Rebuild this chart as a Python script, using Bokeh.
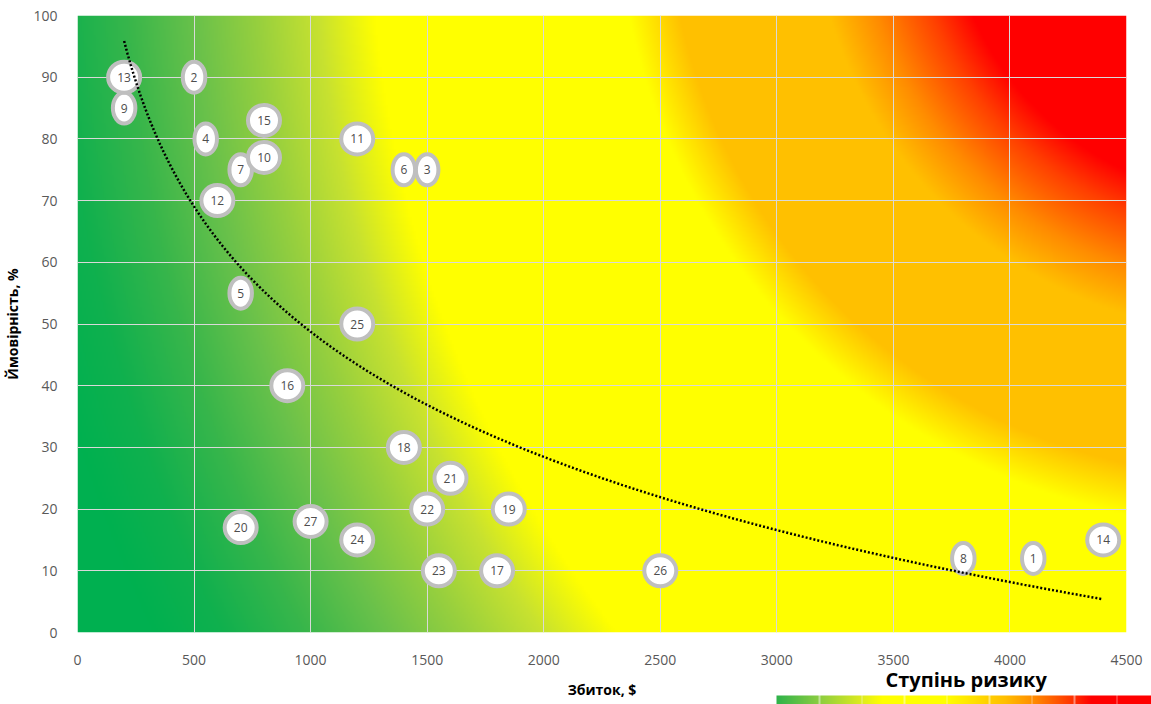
import numpy as np
from bokeh.plotting import figure
from bokeh.models import (ColumnDataSource, ColorBar, LinearColorMapper,
                          FixedTicker, Range1d)
from bokeh.core.properties import value
from bokeh.embed import file_html
from bokeh.resources import INLINE

# ---------------- data ----------------
risk_ids = ["1", "2", "3", "4", "5", "6", "7", "8", "9", "10", "11", "12", "13", "14",
            "15", "16", "17", "18", "19", "20", "21", "22", "23", "24", "25", "26", "27"]
loss_usd = [4100, 500, 1500, 550, 700, 1400, 700, 3800, 200, 800, 1200, 600, 200, 4400,
            800, 900, 1800, 1400, 1850, 700, 1600, 1500, 1550, 1200, 1200, 2500, 1000]
probability_pct = [12, 90, 75, 80, 55, 75, 75, 12, 85, 77, 80, 70, 90, 15,
                   83, 40, 10, 30, 20, 17, 25, 20, 10, 15, 50, 10, 18]
x_ticks = [0, 500, 1000, 1500, 2000, 2500, 3000, 3500, 4000, 4500]
y_ticks = [0, 10, 20, 30, 40, 50, 60, 70, 80, 90, 100]
x_title = "Збиток, $"
y_title = "Ймовірність, %"
legend_title = "Ступінь ризику"

FONT = "Open Sans"
FW, FH = 1049, 617

# ---------------- figure ----------------
p = figure(frame_width=FW, frame_height=FH,
           x_range=Range1d(0, 4500), y_range=Range1d(0, 100),
           output_backend="svg", toolbar_location=None,
           min_border_left=77, min_border_top=15, min_border_right=25, min_border_bottom=72)
p.outline_line_color = None
p.background_fill_color = "white"
p.border_fill_color = "white"


def hex2rgb(h):
    h = h.lstrip("#")
    return [int(h[i:i + 2], 16) for i in (0, 2, 4)]


def interp_colors(t, offs, cols):
    arr = np.array([hex2rgb(c) for c in cols], dtype=float)
    return [np.interp(t, offs, arr[:, k]) for k in range(3)]


# background gradient (style): warm radial part + green part
gx = np.arange(0, FW, 2) + 1.0
gy = np.arange(0, FH, 2) + 1.0
GX, GY = np.meshgrid(gx, gy)
cx, cy = 1176.0, -123.0
d_warm = np.hypot(GX - cx, GY - cy)
d_green = np.hypot(GX - cx, 0.83 * (GY - cy))
warm = interp_colors(d_warm, [0, 305, 342, 395, 440, 585, 635],
                     ["#FF0000", "#FF0000", "#FF4000", "#FF8C00", "#FFC000", "#FFC000", "#FFFF00"])
green = interp_colors(d_green, [885, 940, 1000, 1060, 1130, 1200, 1260],
                      ["#FFFF00", "#C8E230", "#98D03E", "#6CC24A", "#38B64B", "#10B04E", "#00B050"])
mask = d_green >= 885
img = np.empty(d_warm.shape, dtype=np.uint32)
view = img.view(dtype=np.uint8).reshape(d_warm.shape + (4,))
for k in range(3):
    view[..., k] = np.where(mask, green[k], warm[k]).astype(np.uint8)
view[..., 3] = 255
img = img[::-1].copy()
p.image_rgba(image=[img], x=0, y=0, dw=4500, dh=100, level="image")

# axes
for ax in (p.xaxis, p.yaxis):
    ax.axis_line_color = None
    ax.major_tick_line_color = None
    ax.minor_tick_line_color = None
    ax.major_label_text_color = "#595959"
    ax.major_label_text_font = FONT
    ax.major_label_text_font_size = "14px"
    ax.axis_label_text_font = FONT
    ax.axis_label_text_font_style = "bold"
    ax.axis_label_text_font_size = "14px"
    ax.axis_label_text_color = "black"
p.xaxis.ticker = FixedTicker(ticks=x_ticks)
p.yaxis.ticker = FixedTicker(ticks=y_ticks)
p.xaxis.major_label_standoff = 16
p.yaxis.major_label_standoff = 14
p.xaxis.axis_label = x_title
p.yaxis.axis_label = y_title
p.xaxis.axis_label_standoff = 12
p.yaxis.axis_label_standoff = 8
p.xgrid.ticker = FixedTicker(ticks=x_ticks)
p.ygrid.ticker = FixedTicker(ticks=y_ticks)
for g in (p.xgrid, p.ygrid):
    g.grid_line_color = "#D9D9D9"
    g.grid_line_width = 1

# bubbles
src = ColumnDataSource(dict(
    x=loss_usd, y=probability_pct, label=risk_ids,
    w=[13 + 9.5 * len(s) for s in risk_ids],
))
p.ellipse(x="x", y="y", width="w", height=31, width_units="screen", height_units="screen",
          source=src, fill_color="white", line_color="#BFBFBF", line_width=4)

# logarithmic trend line fitted to the data
lx = np.log(np.array(loss_usd, dtype=float))
b, a = np.polyfit(lx, np.array(probability_pct, dtype=float), 1)
xt = np.linspace(min(loss_usd), max(loss_usd), 300)
p.line(xt, a + b * np.log(xt), line_color="black", line_width=2.5, line_dash="2 2")

p.text(x="x", y="y", text="label", source=src, text_align="center", text_baseline="middle",
       text_font=value(FONT), text_font_size="12px", text_color="#4D4D4D")

# legend gradient bar
BW = 375
b_off = [0, 42, 86, 105, 170, 212, 228, 255, 297, 315, 375]
b_col = ["#2EB34B", "#8ACD41", "#E0EC1E", "#FFFF00", "#FFFF00", "#FFD000", "#FFC000",
         "#FF9000", "#FF3000", "#FF0000", "#FF0000"]
pos = np.arange(BW) + 0.5
br = interp_colors(pos, b_off, b_col)
pal = []
for i in range(BW):
    r, g_, bb = br[0][i], br[1][i], br[2][i]
    if i > 0 and abs((i / 42.5) - round(i / 42.5)) * 42.5 < 0.5:
        r, g_, bb = (0.55 * c + 0.45 * 255 for c in (r, g_, bb))
    pal.append("#%02x%02x%02x" % (int(r), int(g_), int(bb)))
cmap = LinearColorMapper(palette=pal, low=0, high=1)
cb = ColorBar(color_mapper=cmap, orientation="horizontal", width=BW, height=9,
              location=(699, -72), padding=0, margin=0,
              ticker=FixedTicker(ticks=[]), major_tick_line_color=None,
              bar_line_color=None, border_line_color=None, background_fill_alpha=0)
p.add_layout(cb)

# legend title holder (invisible bar)
cb2 = ColorBar(color_mapper=cmap, orientation="horizontal", width=160, height=9,
               location=(808, -72), padding=0, margin=0, scale_alpha=0,
               title=legend_title, title_text_font=FONT, title_text_font_style="bold",
               title_text_font_size="20px", title_text_color="black", title_standoff=5,
               ticker=FixedTicker(ticks=[]), major_tick_line_color=None,
               bar_line_color=None, border_line_color=None, background_fill_alpha=0)
p.add_layout(cb2)

open("out.html", "w").write(file_html(p, INLINE))
